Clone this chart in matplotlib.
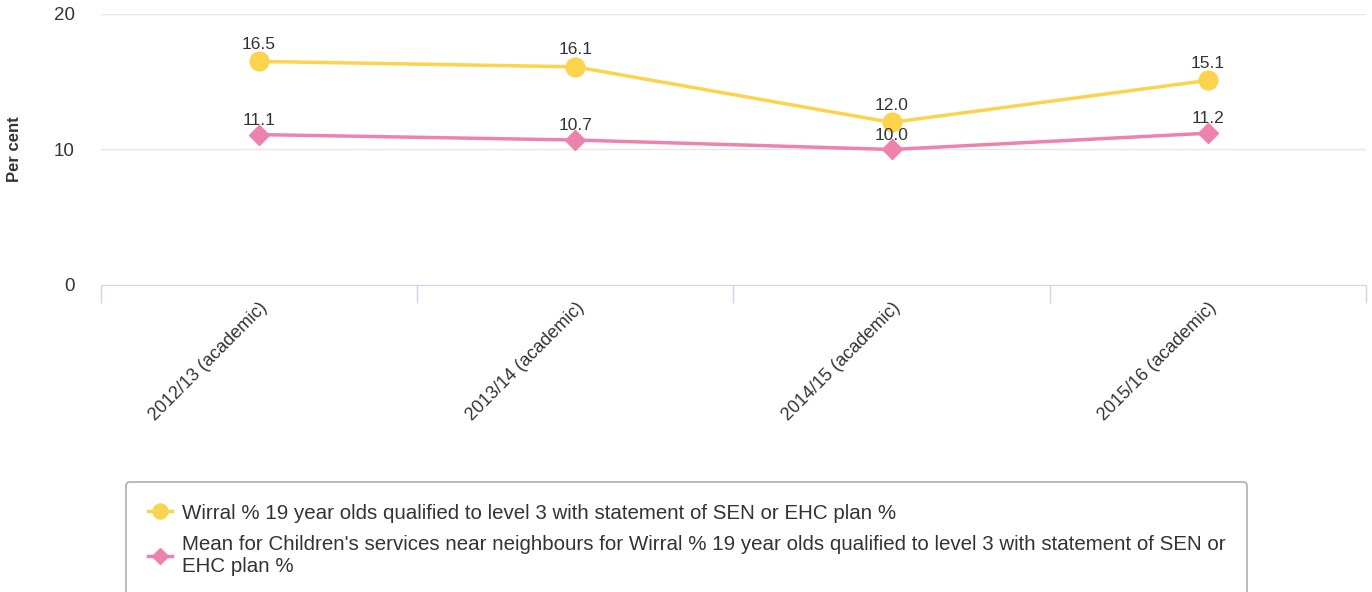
import matplotlib.pyplot as plt

plt.rcParams['font.family'] = ['Liberation Sans', 'DejaVu Sans']

years = ["2012/13 (academic)", "2013/14 (academic)", "2014/15 (academic)", "2015/16 (academic)"]
wirral = [16.5, 16.1, 12.0, 15.1]
neighbours = [11.1, 10.7, 10.0, 11.2]
wirral_label = "Wirral % 19 year olds qualified to level 3 with statement of SEN or EHC plan %"
neighbours_label = ("Mean for Children's services near neighbours for Wirral % 19 year olds qualified "
                    "to level 3 with statement of SEN or\nEHC plan %")

yellow = "#FCD34D"
pink = "#EE82AF"

fig = plt.figure(figsize=(13.72, 5.92), dpi=100)
ax = fig.add_axes([0.0736, 0.5186, 0.922, 0.4578])

x = list(range(len(years)))
l1, = ax.plot(x, wirral, color=yellow, lw=2.5, marker="o", ms=13.5, label=wirral_label, zorder=3)
l2, = ax.plot(x, neighbours, color=pink, lw=2.5, marker="D", ms=10, label=neighbours_label, zorder=3)

for xi, v in zip(x, wirral):
    ax.annotate(f"{v:.1f}", (xi, v), xytext=(0, 7), textcoords="offset points",
                ha="center", va="bottom", fontsize=12.5, color="#333333")
for xi, v in zip(x, neighbours):
    ax.annotate(f"{v:.1f}", (xi, v), xytext=(0, 5), textcoords="offset points",
                ha="center", va="bottom", fontsize=12.5, color="#333333")

ax.set_xlim(-0.5, len(years) - 0.5)
ax.set_ylim(0, 20)
ax.set_yticks([0, 10, 20])
ax.tick_params(axis="y", length=0, labelsize=13.5, labelcolor="#333333", pad=19)
ax.grid(axis="y", color="#E6E6E6", lw=1)
ax.set_axisbelow(True)

ax.set_xticks(x)
ax.set_xticklabels(years, rotation=45, ha="right", rotation_mode="anchor",
                   fontsize=13, color="#333333")
ax.tick_params(axis="x", length=0, pad=10)
ax.set_xticks([i - 0.5 for i in range(len(years) + 1)], minor=True)
ax.tick_params(axis="x", which="minor", length=13, color="#CCD6EB", width=1)

for s in ["top", "right", "left"]:
    ax.spines[s].set_visible(False)
ax.spines["bottom"].set_color("#CCD6EB")

ax.set_ylabel("Per cent", fontsize=12, fontweight="bold", color="#333333")
ax.yaxis.set_label_coords(-0.0625, 0.5)

leg = fig.legend(handles=[l1, l2], loc="upper left", bbox_to_anchor=(126 / 1372, 1 - 482 / 592),
                 fontsize=14.8, frameon=True, fancybox=True, edgecolor="#999999",
                 handlelength=1.2, handletextpad=0.45, borderpad=1.05, labelspacing=0.6,
                 markerscale=0.8, borderaxespad=0)
leg.get_frame().set_linewidth(1.2)
for t in leg.get_texts():
    t.set_color("#333333")

fig.savefig("out.png", dpi=100)
